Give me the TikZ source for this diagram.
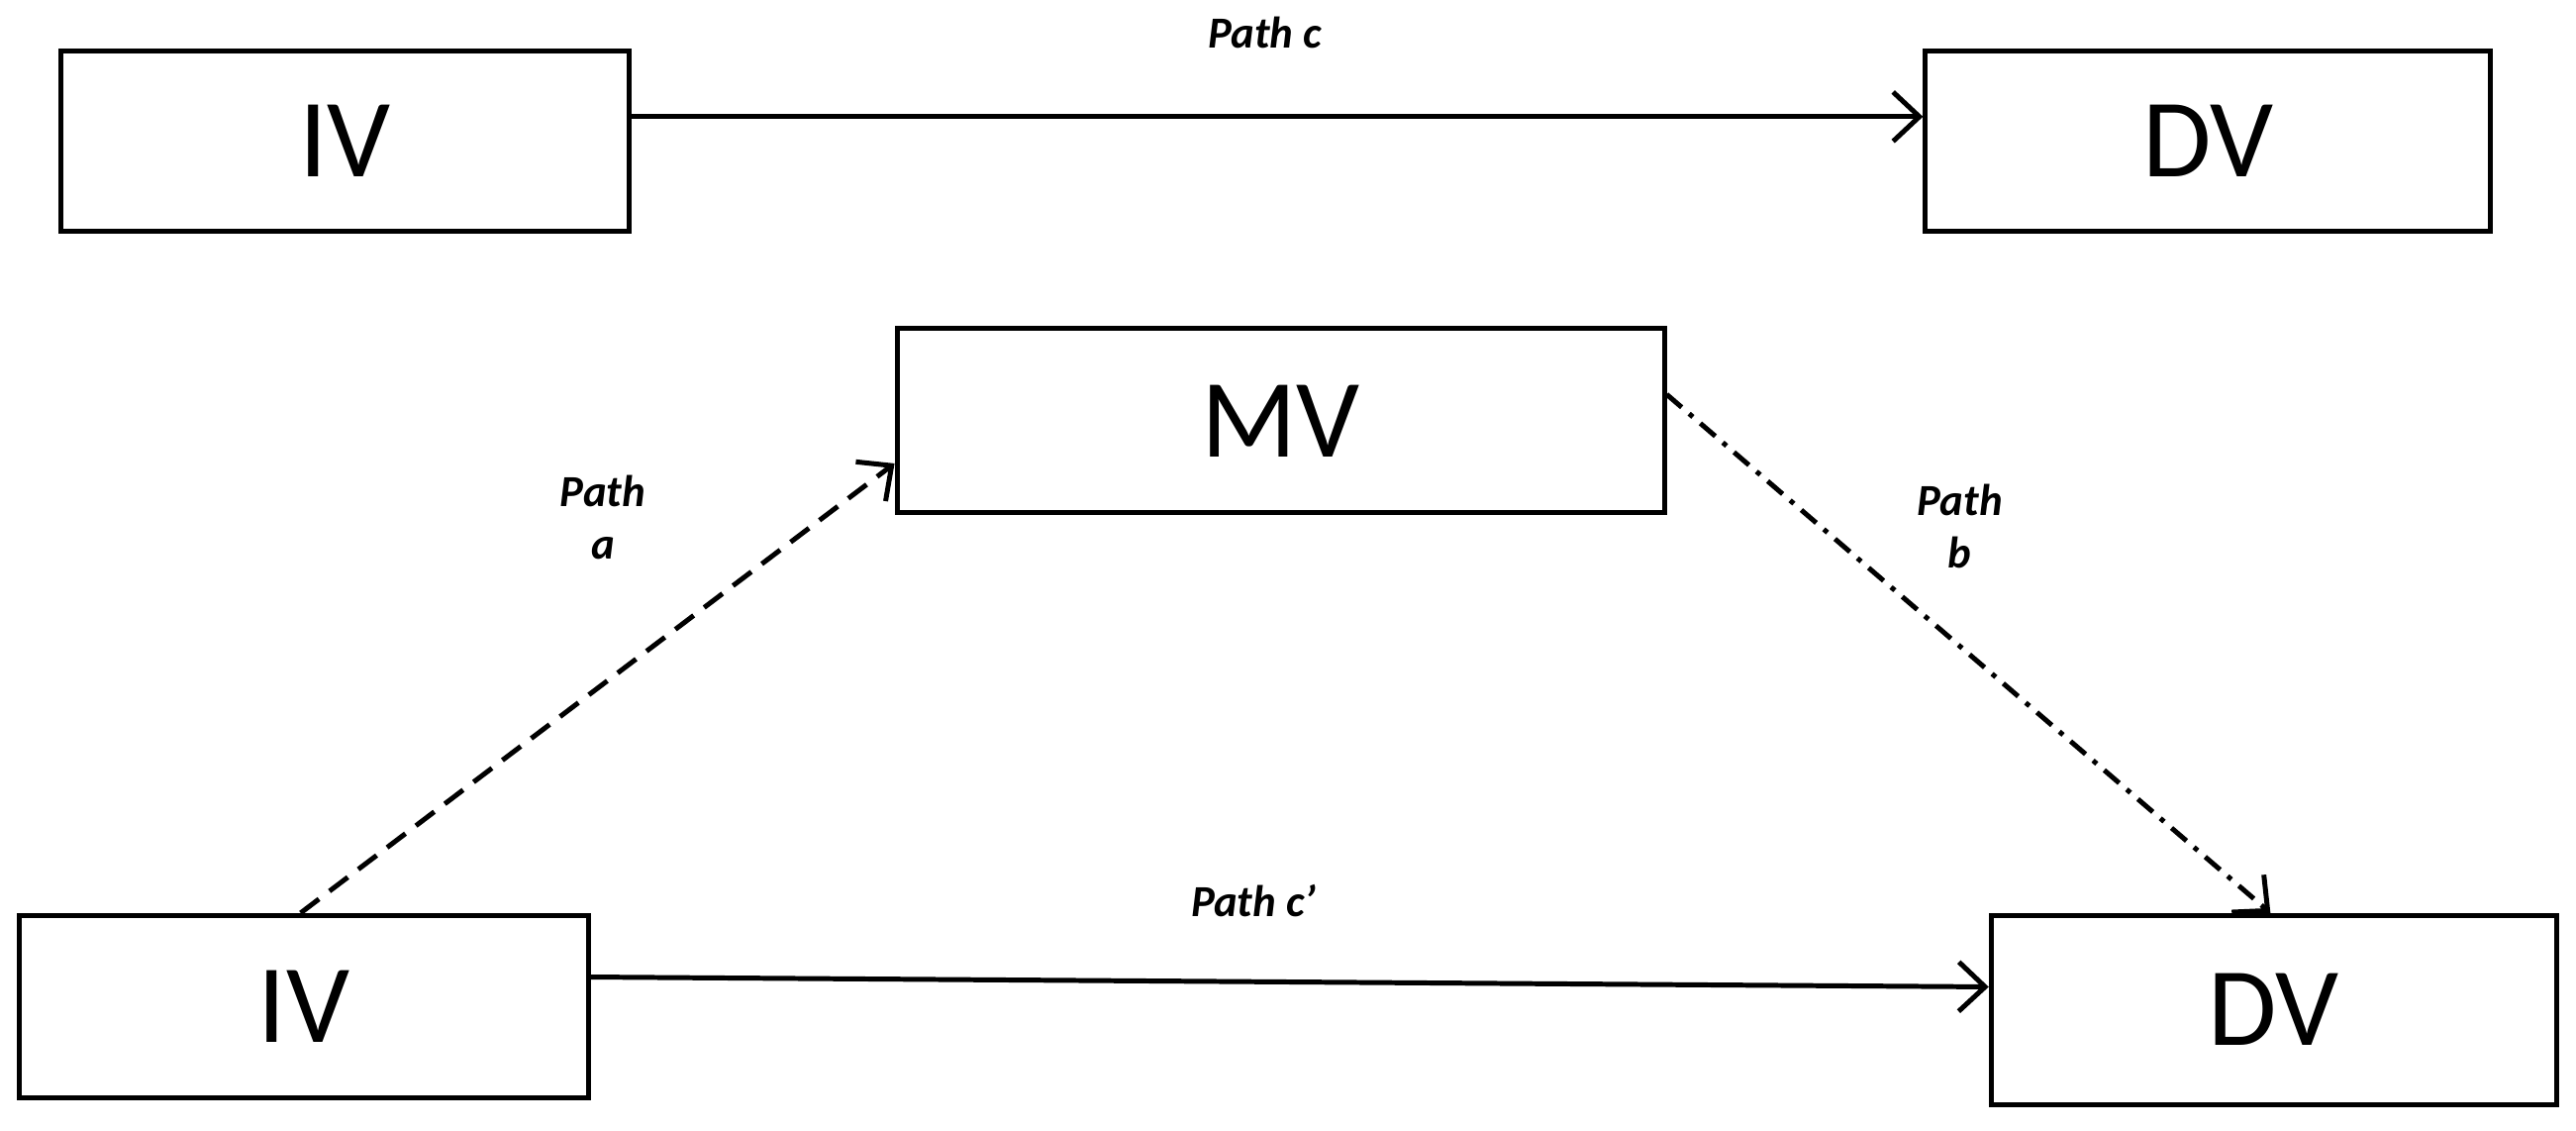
\documentclass[tikz,border=0pt]{standalone}
\usepackage{fontspec}
\setmainfont{Carlito}
\usetikzlibrary{arrows.meta,calc}
\begin{document}
\begin{tikzpicture}[x=0.5pt,y=-0.5pt,
  box/.style={draw,line width=1.5pt,inner sep=0pt,font=\fontsize{34}{40}\selectfont},
  lab/.style={font=\fontsize{13.5}{16}\selectfont\bfseries\itshape,align=center},
  arr/.style={line width=1.5pt,-{Straight Barb[length=8pt,width=15pt,line width=1.5pt]}}]
\useasboundingbox (0,0) rectangle (1568,688);
\node[box,minimum width=173pt,minimum height=55pt] (iva) at (210,86) {IV};
\node[box,minimum width=172pt,minimum height=55pt] (dva) at (1344,86) {DV};
\node[box,minimum width=233.5pt,minimum height=56pt] (mv) at (779.5,256) {MV};
\node[box,minimum width=173pt,minimum height=55.5pt] (ivb) at (185,612.5) {IV};
\node[box,minimum width=172pt,minimum height=57.5pt] (dvb) at (1384,614.5) {DV};
\draw[arr] ([yshift=7.5pt]iva.east) -- ([yshift=7.5pt]dva.west);
\draw[arr,dash pattern=on 7pt off 4pt] ([xshift=-1pt]ivb.north) -- ([yshift=-13pt]mv.west);
\draw[arr,dash pattern=on 6pt off 3pt on 1.5pt off 3pt] ([yshift=8pt]mv.east) -- ([xshift=-1pt]dvb.north);
\draw[arr] ([yshift=9pt]ivb.east) -- ([yshift=7pt]dvb.west);
\node[lab] (lc) at (770,20) {Path c};
\node[lab] (la) at (367,315) {Path\\a};
\node[lab] (lb) at (1193,320) {Path\\b};
\node[lab] (lc2) at (763,548) {Path c’};
\end{tikzpicture}
\end{document}
